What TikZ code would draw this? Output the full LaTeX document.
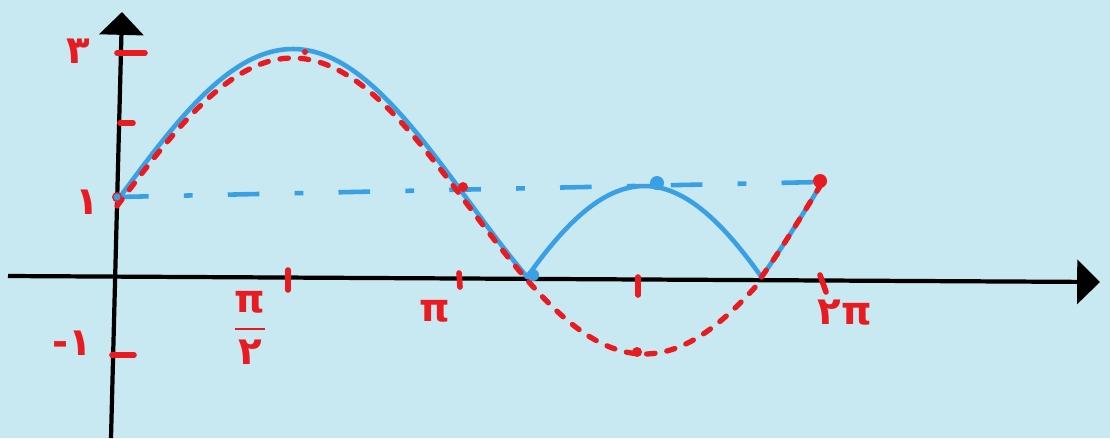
\documentclass[tikz,border=0pt]{standalone}
\usepackage{amsmath}
\usepackage{fontspec}
\usepackage{xcolor}
\usepackage{tikz}
\usetikzlibrary{arrows.meta}
\newfontfamily\arabicfont[Script=Arabic]{DejaVu Sans}
\newfontfamily\greekfont{DejaVu Sans}
\definecolor{paper}{RGB}{200,232,242}
\definecolor{penred}{RGB}{232,28,32}
\definecolor{penblue}{RGB}{58,160,228}

\begin{document}
\begin{tikzpicture}[x=0.01cm, y=0.01cm,
    axis/.style={line width=1.2pt, black, -{Triangle[length=6.5pt,width=12.5pt]}},
    redtick/.style={line width=1.6pt, penred, line cap=round},
    redcurve/.style={line width=1.5pt, penred, dash pattern=on 2.4pt off 3.4pt, line cap=round},
    bluecurve/.style={line width=1.3pt, penblue, line join=round, line cap=round},
    bluedash/.style={line width=1.3pt, penblue, dash pattern=on 9pt off 10pt on 2.5pt off 10pt},
    lbl/.style={text=penred, inner sep=0pt, font=\fontsize{11}{12}\selectfont\bfseries}]
    \useasboundingbox (0,0) rectangle (1110,438);
    \fill[paper] (0,0) rectangle (1110,438);

    % Axes
    \coordinate (ybot) at (111,0);
    \coordinate (ytop) at (122,426);
    \coordinate (xleft) at (8,162);
    \coordinate (xright) at (1100,156);
    \draw[axis] (ybot) -- (ytop);
    \draw[axis] (xleft) -- (xright);

    % Ticks
    \draw[redtick] (117,385) -- (145,385);
    \draw[redtick] (120,315) -- (133,315);
    \draw[redtick] (112,83) -- (134,83);
    \draw[redtick] (288,168) -- (288,148);
    \draw[redtick] (459,165) -- (460,151);
    \draw[redtick] (638,161) -- (638,143);
    \draw[redtick] (820,163) -- (826,146);

    % Labels
    \node[lbl] (ythree) at (78,387) {\arabicfont ۳};
    \node[lbl] (yone) at (87,236) {\arabicfont ۱};
    \node[lbl] (yminus) at (72,95) {{\greekfont -}{\arabicfont ۱}};
    \node[lbl] (halfpi) at (250,110) {$\dfrac{\text{\greekfont\bfseries π}}{\text{\arabicfont\bfseries ۲}}$};
    \node[lbl] (onepi) at (435,127) {\greekfont π};
    \node[lbl] (twopi) at (845,125) {{\arabicfont ۲}{\greekfont π}};

    % y = |1 + 2 sin x|
    \draw[bluecurve] plot[domain=0:3.6652, samples=80, smooth] ({117+111.9*\x}, {161+76*(1+2*sin(\x r))});
    \draw[bluecurve] plot[domain=3.6652:5.7596, samples=60, smooth] ({117+111.9*\x}, {161-91*(1+2*sin(\x r))});
    \draw[bluecurve] plot[domain=5.7596:6.2832, samples=20, smooth] ({117+111.9*\x}, {161+91*(1+2*sin(\x r))});

    % y = 1
    \coordinate (dashstart) at (117,241);
    \coordinate (dashend) at (820,256);
    \draw[bluedash] (dashstart) -- (dashend);

    % y = 1 + 2 sin x
    \draw[redcurve] plot[domain=0:5.7596, samples=120, smooth] ({117+111.9*\x}, {158+74*(1+2*sin(\x r))});
    \draw[redcurve] plot[domain=5.7596:6.2832, samples=20, smooth] ({117+111.9*\x}, {161+91*(1+2*sin(\x r))});

    % Points
    \fill[penred] (117,241) circle (5);
    \fill[penblue] (117,241) circle (3.5);
    \fill[penred] (305,386) circle (3);
    \fill[penred] (463,251) circle (5);
    \fill[penred] (637,86) circle (5);
    \fill[penred] (820,257) circle (7);
    \fill[penblue] (533,163) circle (6);
    \fill[penblue] (657,255) circle (7);
\end{tikzpicture}
\end{document}
